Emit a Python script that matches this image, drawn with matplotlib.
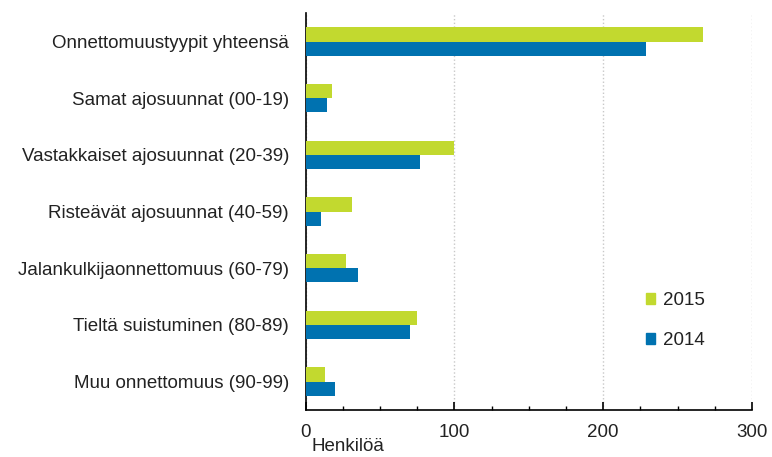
import matplotlib.pyplot as plt
import numpy as np
from matplotlib.patches import Patch
from matplotlib.ticker import MultipleLocator

plt.rcParams['font.family'] = ['Liberation Sans', 'DejaVu Sans']
plt.rcParams['text.color'] = '#222222'

categories = ['Onnettomuustyypit yhteensä', 'Samat ajosuunnat (00-19)',
              'Vastakkaiset ajosuunnat (20-39)', 'Risteävät ajosuunnat (40-59)',
              'Jalankulkijaonnettomuus (60-79)', 'Tieltä suistuminen (80-89)',
              'Muu onnettomuus (90-99)']
v2015 = [267, 18, 100, 31, 27, 75, 13]
v2014 = [229, 14, 77, 10, 35, 70, 20]

green = '#c2d92f'
blue = '#0072b0'
fs = 13.5

fig = plt.figure(figsize=(7.72, 4.57), dpi=100)
ax = fig.add_axes([0.396, 0.103, 0.578, 0.868])

y = np.arange(len(categories))
h = 0.25
ax.barh(y - h / 2, v2015, height=h, color=green, zorder=3)
ax.barh(y + h / 2, v2014, height=h, color=blue, zorder=3)

ax.set_ylim(len(categories) - 0.5, -0.5)
ax.set_xlim(0, 300)
ax.set_yticks(y)
ax.set_yticklabels(categories, fontsize=fs, color='#222222')
ax.tick_params(axis='y', length=0, pad=12)
ax.xaxis.set_major_locator(MultipleLocator(100))
ax.xaxis.set_minor_locator(MultipleLocator(25))
ax.tick_params(axis='x', which='major', direction='in', length=6, width=1.2,
               labelsize=fs, labelcolor='#222222', pad=10)
ax.tick_params(axis='x', which='minor', direction='in', length=3, width=1)
ax.grid(axis='x', which='major', color='#c8c8c8', linestyle=':', linewidth=1, zorder=0)

for s in ['top', 'right']:
    ax.spines[s].set_visible(False)
ax.spines['left'].set_linewidth(1.2)
ax.spines['bottom'].set_linewidth(1.2)

ax.text(0.014, -0.072, 'Henkilöä', transform=ax.transAxes, fontsize=fs, va='top', ha='left')

handles = [Patch(color=green, label='2015'), Patch(color=blue, label='2014')]
ax.legend(handles=handles, loc='center left', bbox_to_anchor=(0.724, 0.225),
          frameon=False, fontsize=fs, handlelength=0.5, handleheight=0.5,
          handletextpad=0.4, labelspacing=1.2)

fig.savefig('out.png', dpi=100)
